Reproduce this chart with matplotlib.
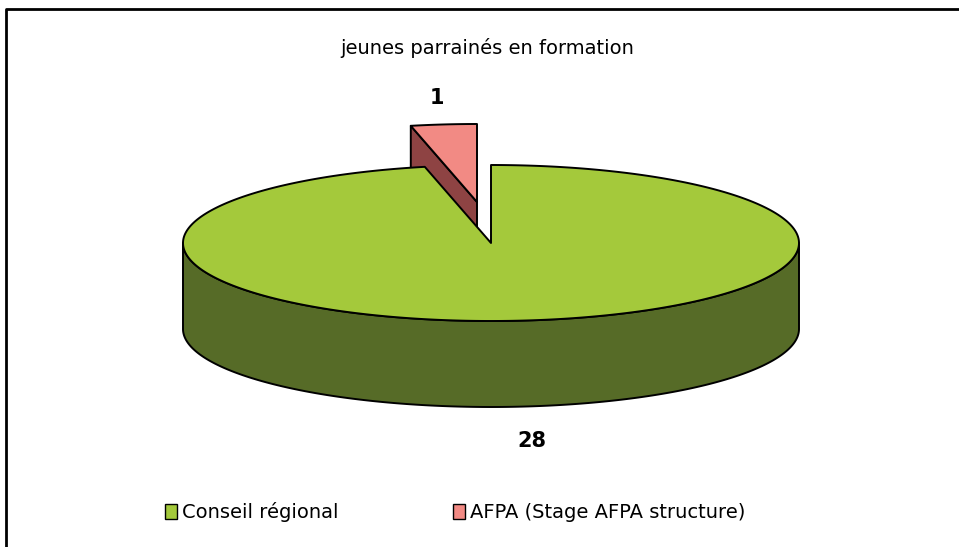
import numpy as np
import matplotlib.pyplot as plt
from matplotlib.patches import Polygon, Patch

titre = "jeunes parrainés en formation"
categories = ["Conseil régional", "AFPA (Stage AFPA structure)"]
valeurs = [28, 1]
couleurs_dessus = ["#a4c93b", "#f28a84"]
couleurs_cote = ["#566b27", "#8e4343"]

# géométrie du camembert 3D, en pixels de l'image
cx, cy = 491, 243
a, b = 308, 78
epaisseur = 86
decalage = [(0, 0), (-14, -41)]  # part AFPA sortie du camembert


def arc(t, dx, dy, z=0):
    return np.column_stack([cx + dx + a * np.cos(t), cy + dy - b * np.sin(t) + z])


fig = plt.figure(figsize=(9.59, 5.47), dpi=100)
ax = fig.add_axes([0, 0, 1, 1])
ax.set_xlim(0, 959)
ax.set_ylim(547, 0)
ax.axis('off')

# cadre (seuls les bords haut et gauche sont visibles)
ax.plot([6, 6, 959], [547, 9, 9], color='black', lw=2, solid_capstyle='butt')

total = sum(valeurs)
bords = np.radians(90 - np.concatenate([[0], np.cumsum(valeurs)]) * 360 / total)
style = dict(edgecolor='black', lw=1.4, joinstyle='round')

# la part du fond d'abord, puis la grande part par-dessus
for i in [1, 0]:
    t0, t1 = bords[i], bords[i + 1]
    dx, dy = decalage[i]
    c = np.array([[cx + dx, cy + dy]])
    bas = np.array([0, epaisseur])

    # faces radiales visibles
    if np.cos(t0) < -1e-6:
        p = arc(np.array([t0]), dx, dy)
        ax.add_patch(Polygon(np.vstack([c, p, p + bas, c + bas]), fc=couleurs_cote[i], **style))
    if np.cos(t1) > 1e-6:
        p = arc(np.array([t1]), dx, dy)
        ax.add_patch(Polygon(np.vstack([c, p, p + bas, c + bas]), fc=couleurs_cote[i], **style))

    # paroi extérieure, seulement la moitié avant
    for k in range(-2, 2):
        lo = max(t1, -np.pi + 2 * np.pi * k)
        hi = min(t0, 2 * np.pi * k)
        if lo < hi:
            t = np.linspace(lo, hi, 300)
            haut = arc(t, dx, dy)
            ax.add_patch(Polygon(np.vstack([haut, arc(t[::-1], dx, dy, epaisseur)]),
                                 fc=couleurs_cote[i], **style))

    # dessus
    t = np.linspace(t0, t1, 400)
    ax.add_patch(Polygon(np.vstack([c, arc(t, dx, dy)]), fc=couleurs_dessus[i], **style))

ax.text(487, 48, titre, ha='center', va='center', fontsize=14)
ax.text(437, 98, str(valeurs[1]), ha='center', va='center', fontsize=15, fontweight='bold')
ax.text(532, 441, str(valeurs[0]), ha='center', va='center', fontsize=15, fontweight='bold')

poignees = [Patch(fc=couleurs_dessus[j], ec='black', lw=1) for j in range(len(categories))]
fig.legend(poignees, categories, loc='center left', bbox_to_anchor=(0.172, 0.064), ncol=2,
           frameon=False, fontsize=14, handlelength=0.62, handleheight=0.8,
           handletextpad=0.25, columnspacing=5.9, borderpad=0, borderaxespad=0)

fig.savefig('out.png', dpi=100)
